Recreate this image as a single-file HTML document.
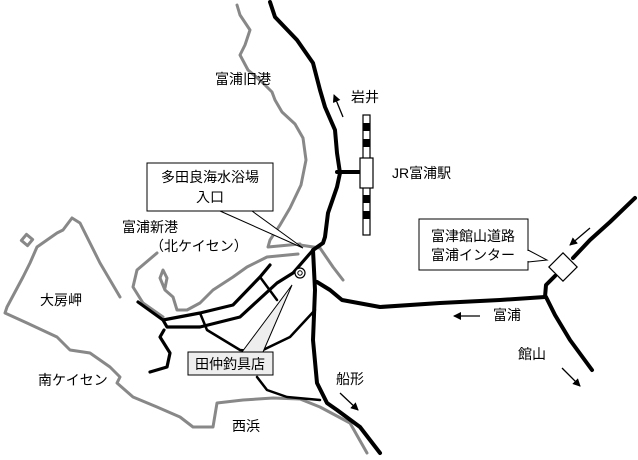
<!DOCTYPE html>
<html><head><meta charset="utf-8"><style>
html,body{margin:0;padding:0;background:#fff;width:638px;height:460px;overflow:hidden}
svg text{font-family:"Liberation Sans","Noto Sans CJK JP",sans-serif;font-size:14px;fill:#000}
</style></head><body>
<svg width="638" height="460" viewBox="0 0 638 460" xmlns="http://www.w3.org/2000/svg">
<defs><marker id="ah" markerWidth="8" markerHeight="8" refX="7" refY="4" orient="auto" markerUnits="userSpaceOnUse"><path d="M0,0 L8,4 L0,8 z" fill="#000"/></marker></defs>
<g fill="none" stroke="#888" stroke-width="3" stroke-linejoin="round" stroke-linecap="round">
<path d="M237,5 L240,15 L250,30 L245,45 L240,55 L248,70 L262,82 L272,92 L275,100 L282,112 L295,124 L303,138 L306,160 L301,185 L290,208 L280,225 L270,240 L268,247 L300,244"/>
<path d="M298,254 L267,257 L247,267 L233,277 L213,290 L200,303 L187,310 L177,310 L173,297 L165,290 L160,278 L163,270 L167,278 L165,288"/>
<path d="M157,253 L137,270 L133,287 L143,303 L163,317"/>
<path d="M120,297 L100,263 L80,223 L72,218 L63,230 L57,233 L37,247 L30,263 L23,277 L7,307 L5,313 L27,323 L57,337 L70,350 L90,353 L110,367 L120,377 L117,383 L133,397 L157,407 L180,417 L193,427 L213,427 L217,403 L243,400 L273,398 L300,399 L320,407 L350,423 L367,453"/>
<path d="M300,245 L320,248 L333,267 L343,280"/>
<rect x="23" y="236" width="8" height="8" transform="rotate(40 27 240)"/>
</g>
<g fill="none" stroke="#000" stroke-width="4" stroke-linejoin="round" stroke-linecap="round">
<path d="M270,2 L275,17 L297,40 L313,63 L320,90 L325,107 L335,130 L337,153 L340,173 L337,187 L328,213 L325,237 L323,243 L313,250 L315,290 L313,340 L317,383 L327,403 L337,410 L360,427 L380,453"/>
<path d="M337,172 L360,172"/>
<path d="M317,282 L330,290 L342,300 L380,307 L440,303 L500,300 L545,297 L546,285 L555,276"/>
<path d="M573,258 L590,240 L610,222 L635,198"/>
<path d="M546,297 L555,315 L570,340 L592,370"/>
</g>
<g fill="none" stroke="#000" stroke-width="3.2" stroke-linejoin="round" stroke-linecap="round">
<path d="M138,302 L163,320 L200,313 L233,305 L260,277 L270,265"/>
<path d="M163,320 L167,327 L200,327 L240,317 L277,283 L293,273 L313,250"/>
<path d="M164,330 L160,337 L170,353 L167,367 L150,372"/>
</g>
<g fill="none" stroke="#000" stroke-width="2.5" stroke-linejoin="round" stroke-linecap="round">
<path d="M200,313 L207,330 L240,350 L260,352"/>
<path d="M260,277 L277,300"/>
<path d="M315,310 L290,337 L263,350"/>
<path d="M257,377 L267,390 L287,397 L320,400"/>
</g>
<rect x="363" y="115" width="7" height="120" fill="#fff" stroke="#000" stroke-width="1.2"/>
<g fill="#000"><rect x="363" y="123" width="7" height="8"/><rect x="363" y="139" width="7" height="8"/><rect x="363" y="195" width="7" height="8"/><rect x="363" y="211" width="7" height="8"/></g>
<rect x="360" y="158" width="13" height="30" fill="#fff" stroke="#000" stroke-width="1.2"/>
<rect x="553" y="257" width="20" height="20" fill="#fff" stroke="#000" stroke-width="1.2" transform="rotate(45 563 267)"/>
<circle cx="300" cy="273" r="5" fill="#fff" stroke="#000" stroke-width="1.2"/>
<circle cx="300" cy="273" r="2.2" fill="none" stroke="#000" stroke-width="1"/>
<path d="M220,211 L303,248 L252,211" fill="#fff" stroke="#000" stroke-width="1"/>
<rect x="147" y="163" width="126" height="48" fill="#fff" stroke="#000" stroke-width="1"/>
<text x="210" y="182" text-anchor="middle">多田良海水浴場</text>
<text x="210" y="202" text-anchor="middle">入口</text>
<path d="M242,352 L292,285 L263,352" fill="#eee" stroke="#000" stroke-width="1"/>
<rect x="188" y="352" width="85" height="23" fill="#eee" stroke="#000" stroke-width="1"/>
<text x="230" y="369" text-anchor="middle">田仲釣具店</text>
<path d="M528,250 L547,260 L528,262" fill="#fff" stroke="#000" stroke-width="1"/>
<rect x="419" y="219" width="109" height="51" fill="#fff" stroke="#000" stroke-width="1"/>
<line x1="528" y1="251" x2="528" y2="261" stroke="#fff" stroke-width="1.5"/>
<text x="473" y="241" text-anchor="middle">富津館山道路</text>
<text x="473" y="260" text-anchor="middle">富浦インター</text>
<g stroke="#000" stroke-width="1.3" marker-end="url(#ah)">
<line x1="343" y1="117" x2="334" y2="95"/>
<line x1="480" y1="316" x2="454" y2="316"/>
<line x1="562" y1="368" x2="580" y2="386"/>
<line x1="340" y1="393" x2="358" y2="410"/>
<line x1="590" y1="228" x2="570" y2="245"/>
</g>
<text x="215" y="84">富浦旧港</text>
<text x="351" y="102">岩井</text>
<text x="392" y="178">JR富浦駅</text>
<text x="122" y="232">富浦新港</text>
<text x="150" y="251">（北ケイセン）</text>
<text x="40" y="305">大房岬</text>
<text x="38" y="385">南ケイセン</text>
<text x="232" y="431">西浜</text>
<text x="336" y="384">船形</text>
<text x="493" y="320">富浦</text>
<text x="518" y="359">館山</text>
</svg>
</body></html>
